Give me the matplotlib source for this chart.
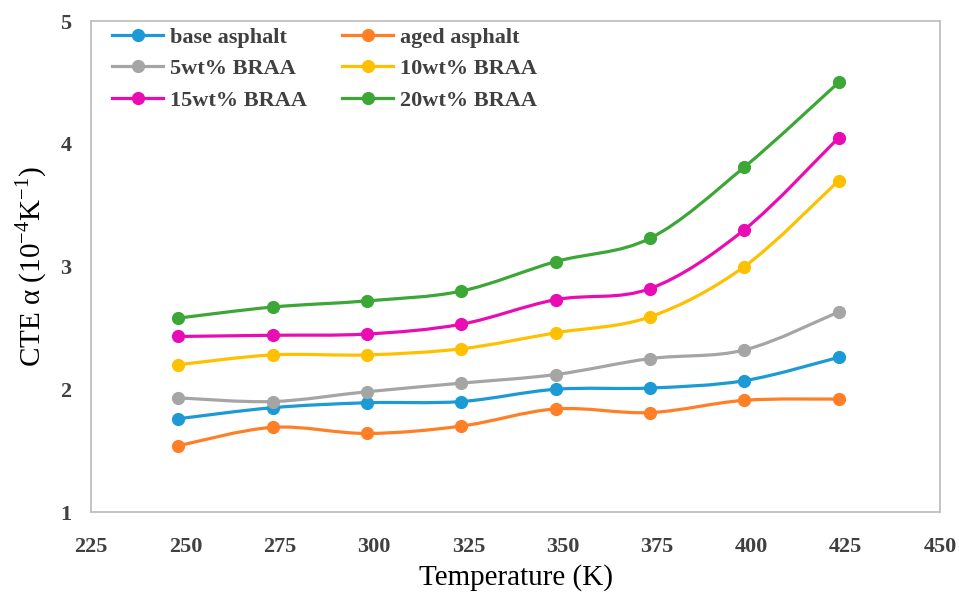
import numpy as np
import matplotlib
matplotlib.use("Agg")
import matplotlib.pyplot as plt
from matplotlib.path import Path
from matplotlib.patches import PathPatch
from matplotlib.lines import Line2D

plt.rcParams['font.family'] = ['Liberation Serif', 'DejaVu Serif']
plt.rcParams['mathtext.fontset'] = 'custom'
plt.rcParams['mathtext.rm'] = 'Liberation Serif'

# Data (temperature in K, CTE in 1e-4 / K)
temps = [248.15, 273.15, 298.15, 323.15, 348.15, 373.15, 398.15, 423.15]
base_asphalt = [1.76, 1.85, 1.89, 1.90, 2.00, 2.01, 2.07, 2.26]
aged_asphalt = [1.54, 1.69, 1.64, 1.70, 1.84, 1.81, 1.91, 1.92]
braa_5 = [1.93, 1.90, 1.98, 2.05, 2.12, 2.25, 2.32, 2.63]
braa_10 = [2.20, 2.28, 2.28, 2.33, 2.46, 2.59, 3.00, 3.70]
braa_15 = [2.43, 2.44, 2.45, 2.53, 2.73, 2.82, 3.30, 4.05]
braa_20 = [2.58, 2.67, 2.72, 2.80, 3.04, 3.23, 3.81, 4.50]

series = [
    ("base asphalt", base_asphalt, "#1B9AD6"),
    ("aged asphalt", aged_asphalt, "#FF7F27"),
    ("5wt% BRAA", braa_5, "#A5A5A5"),
    ("10wt% BRAA", braa_10, "#FFC000"),
    ("15wt% BRAA", braa_15, "#E90CB4"),
    ("20wt% BRAA", braa_20, "#3CA636"),
]


def smooth_path(x, y):
    # Excel-style smoothed line: cubic Bezier segments through the points
    p = np.column_stack([x, y])
    ext = np.vstack([p[0], p, p[-1]])
    verts = [p[0]]
    codes = [Path.MOVETO]
    for i in range(len(p) - 1):
        p0, p1, p2, p3 = ext[i], ext[i + 1], ext[i + 2], ext[i + 3]
        c1 = p1 + (p2 - p0) / 6.0
        c2 = p2 - (p3 - p1) / 6.0
        verts += [c1, c2, p2]
        codes += [Path.CURVE4] * 3
    return Path(verts, codes)


fig = plt.figure(figsize=(9.59, 5.92), dpi=100)
ax = fig.add_axes([0.0949, 0.1351, 0.8853, 0.8294])

handles = {}
for label, vals, col in series:
    ax.add_patch(PathPatch(smooth_path(temps, vals), facecolor="none",
                           edgecolor=col, lw=2.3, capstyle="round", zorder=2))
    ax.plot(temps, vals, linestyle="none", marker="o", markersize=8.5,
            color=col, zorder=3)
    handles[label] = Line2D([], [], color=col, lw=2.3, marker="o", markersize=8.5)

ax.set_xlim(225, 450)
ax.set_ylim(1, 5)
ax.set_xticks(np.arange(225, 451, 25))
ax.set_yticks([1, 2, 3, 4, 5])
ax.tick_params(length=0, labelsize=16, labelcolor="#404040")
ax.tick_params(axis="x", pad=18)
ax.tick_params(axis="y", pad=14)
for t in ax.get_xticklabels() + ax.get_yticklabels():
    t.set_fontweight("bold")
for s in ax.spines.values():
    s.set_color("#BFBFBF")
    s.set_linewidth(1.3)

ax.set_xlabel("Temperature (K)", fontsize=21, labelpad=5)
ax.set_ylabel(r"CTE α (10$^{-4}$K$^{-1}$)", fontsize=21, labelpad=8)

# legend fills column by column, so order it to read row by row
order = ["base asphalt", "5wt% BRAA", "15wt% BRAA",
         "aged asphalt", "10wt% BRAA", "20wt% BRAA"]
leg = ax.legend([handles[k] for k in order], order, ncol=2, frameon=False,
                loc="upper left", bbox_to_anchor=(112 / 959, 1 - 27 / 592),
                bbox_transform=fig.transFigure, borderpad=0, borderaxespad=0,
                handlelength=2.3, handletextpad=0.3, columnspacing=1.6,
                labelspacing=0.5, prop={"weight": "bold", "size": 16})
for t in leg.get_texts():
    t.set_color("#404040")

fig.savefig("out.png", dpi=100)
